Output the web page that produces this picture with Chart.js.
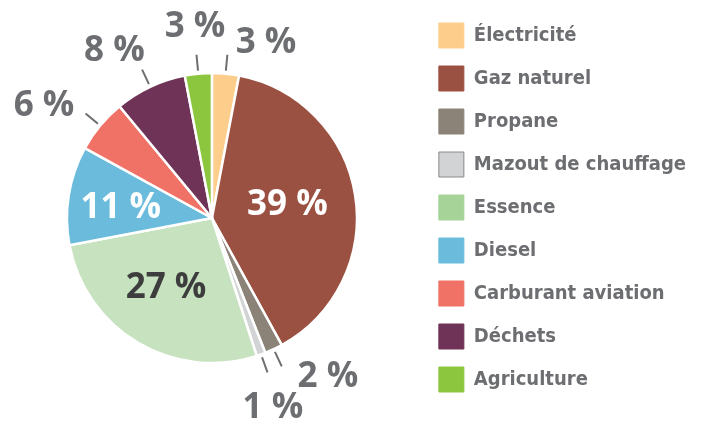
<!DOCTYPE html>
<html><head><meta charset="utf-8">
<script src="https://cdn.jsdelivr.net/npm/chart.js@4.4.1/dist/chart.umd.min.js"></script>
<style>html,body{margin:0;padding:0;background:#fff}canvas{display:block}</style>
</head><body>
<canvas id="c" width="707" height="424"></canvas>
<script>
// ---- data ----
const categories = ['Électricité','Gaz naturel','Propane','Mazout de chauffage','Essence','Diesel','Carburant aviation','Déchets','Agriculture'];
const shares = [3, 39, 2, 1, 27, 11, 6, 8, 3];
const valueLabels = ['3 %','39 %','2 %','1 %','27 %','11 %','6 %','8 %','3 %'];

// ---- styles ----
const sliceColors  = ['#FDCD8C','#9B5141','#8B8377','#D1D3D4','#C7E2BF','#6BBCDC','#F07266','#6E3357','#8CC63F'];
const legendColors = ['#FDCD8C','#9B5141','#8B8377','#D1D3D4','#A5D398','#6BBCDC','#F07266','#6E3357','#8CC63F'];
const legendBorders= ['#FDCD8C','#9B5141','#8B8377','#8A8A8A','#A5D398','#6BBCDC','#F07266','#6E3357','#8CC63F'];
// label placement relative to each slice's mid angle (deg) and outer radius factor
const labelPlacement = [
  {dA: 11.6, rk: 1.276, color:'#6D6E71', leader:true},
  {dA: -2.0, rk: 0.53,  color:'#FFFFFF', leader:false},
  {dA:-11.3, rk: 1.345, color:'#6D6E71', leader:true},
  {dA:  1.8, rk: 1.36,  color:'#6D6E71', leader:true},
  {dA:  3.4, rk: 0.566, color:'#3D3D3D', leader:false},
  {dA: -1.5, rk: 0.634, color:'#FFFFFF', leader:false},
  {dA: -5.4, rk: 1.40,  color:'#6D6E71', leader:true},
  {dA: -4.8, rk: 1.345, color:'#6D6E71', leader:true},
  {dA:  0.4, rk: 1.338, color:'#6D6E71', leader:true}
];

// shift the pie area down so its centre sits where the reference has it
const pieShift = {
  id: 'pieShift',
  afterLayout(chart) { chart.chartArea.top += 7; }
};

const sliceLabels = {
  id: 'sliceLabels',
  afterDatasetsDraw(chart) {
    const ctx = chart.ctx;
    const meta = chart.getDatasetMeta(0);
    ctx.save();
    meta.data.forEach((arc, i) => {
      const p = arc.getProps(['x','y','startAngle','endAngle','outerRadius'], true);
      const mid = (p.startAngle + p.endAngle) / 2;
      const st = labelPlacement[i];
      if (st.leader) {
        ctx.strokeStyle = '#6D6E71';
        ctx.lineWidth = 2;
        ctx.beginPath();
        ctx.moveTo(p.x + Math.cos(mid) * (p.outerRadius + 3), p.y + Math.sin(mid) * (p.outerRadius + 3));
        ctx.lineTo(p.x + Math.cos(mid) * (p.outerRadius + 19), p.y + Math.sin(mid) * (p.outerRadius + 19));
        ctx.stroke();
      }
      const a = mid + st.dA * Math.PI / 180;
      const r = p.outerRadius * st.rk;
      ctx.font = 'bold 35px "Open Sans", sans-serif';
      ctx.textAlign = 'center';
      ctx.textBaseline = 'middle';
      ctx.fillStyle = st.color;
      ctx.fillText(valueLabels[i], p.x + Math.cos(a) * r, p.y + Math.sin(a) * r + 2);
    });
    ctx.restore();
  }
};

new Chart(document.getElementById('c'), {
  type: 'pie',
  data: {
    labels: categories,
    datasets: [{
      data: shares,
      backgroundColor: sliceColors,
      borderColor: '#FFFFFF',
      borderWidth: 2.5,
      radius: 145
    }]
  },
  options: {
    responsive: false,
    animation: false,
    layout: { padding: { left: 3, right: 11, top: 5, bottom: 0 } },
    plugins: {
      tooltip: { enabled: false },
      legend: {
        position: 'right',
        align: 'start',
        labels: {
          boxWidth: 25,
          boxHeight: 25,
          padding: 18,
          color: '#6D6E71',
          font: { family: '"DejaVu Sans Condensed", sans-serif', size: 20, weight: 'bold' },
          generateLabels(chart) {
            const items = Chart.overrides.pie.plugins.legend.labels.generateLabels(chart);
            items.forEach((it, i) => {
              it.fillStyle = legendColors[i];
              it.strokeStyle = legendBorders[i];
              it.lineWidth = 1;
            });
            return items;
          }
        }
      }
    }
  },
  plugins: [pieShift, sliceLabels]
});
</script>
</body></html>
